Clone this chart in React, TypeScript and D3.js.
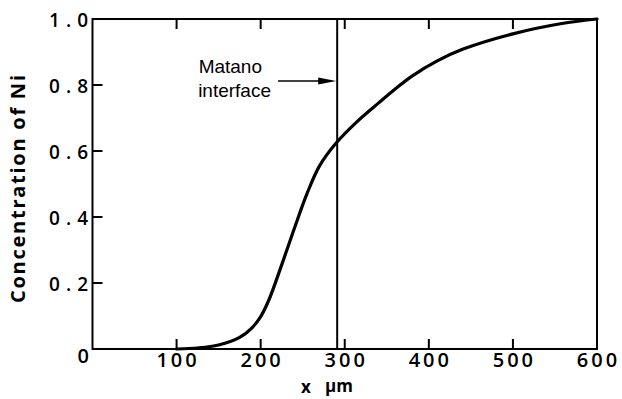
import React from "react";
import * as d3 from "d3";

const xTicks = [100, 200, 300, 400, 500, 600];
const yTicks = [0.2, 0.4, 0.6, 0.8];
const yTickLabels = ["0.2", "0.4", "0.6", "0.8", "1.0"];
const yTickValues = [0.2, 0.4, 0.6, 0.8, 1.0];
const topTicks = [100, 200, 300, 400, 500];
const curveX = [100, 125, 150, 175, 190, 200, 210, 225, 240, 255, 270, 290, 315, 340, 360, 380, 410, 440, 500, 560, 600];
const curveC = [0, 0.003, 0.012, 0.035, 0.065, 0.098, 0.15, 0.255, 0.365, 0.47, 0.555, 0.625, 0.69, 0.745, 0.788, 0.827, 0.873, 0.908, 0.955, 0.987, 1.0];
const matanoX = 291;

export default function App() {
  const W = 622, H = 399;
  const x = d3.scaleLinear().domain([0, 600]).range([92.5, 597]);
  const y = d3.scaleLinear().domain([0, 1]).range([349, 19]);
  const pts: [number, number][] = curveX.map((v, i) => [v, curveC[i]]);
  const line = d3.line<[number, number]>().x(d => x(d[0])).y(d => y(d[1])).curve(d3.curveCatmullRom.alpha(0.5));
  const tickLen = 10;
  const lblFont = "'Open Sans', sans-serif";
  const mx = x(matanoX);
  return (
    <svg width={W} height={H} style={{ position: "absolute", left: 0, top: 0, background: "#fff" }}>
      <rect x={x(0)} y={y(1)} width={x(600) - x(0)} height={y(0) - y(1)} fill="none" stroke="#000" strokeWidth={2} />
      {xTicks.slice(0, 5).map(t => (
        <line key={"bx" + t} x1={x(t)} x2={x(t)} y1={y(0)} y2={y(0) - tickLen} stroke="#000" strokeWidth={2} />
      ))}
      {topTicks.map(t => (
        <line key={"tx" + t} x1={x(t)} x2={x(t)} y1={y(1)} y2={y(1) + tickLen} stroke="#000" strokeWidth={2} />
      ))}
      {yTicks.map(t => (
        <line key={"ly" + t} x1={x(0)} x2={x(0) + tickLen} y1={y(t)} y2={y(t)} stroke="#000" strokeWidth={2} />
      ))}
      {xTicks.map(t => (
        <text key={"xl" + t} x={x(t) + 1.5} y={367} textAnchor="middle" fontFamily={lblFont} fontWeight={600} fontSize={20} letterSpacing={3}>
          {String(t)}
        </text>
      ))}
      <text x={89} y={363} textAnchor="end" fontFamily={lblFont} fontWeight={600} fontSize={20}>0</text>
      {yTickValues.map((t, i) => (
        <text key={"yl" + t} x={88 + 6} y={y(t) + 8} textAnchor="end" fontFamily={lblFont} fontWeight={600} fontSize={19} letterSpacing={6}>
          {yTickLabels[i]}
        </text>
      ))}
      <text x={306} y={393} textAnchor="middle" fontFamily={lblFont} fontWeight={700} fontSize={17}>x</text>
      <text x={325} y={392} textAnchor="start" fontFamily={lblFont} fontWeight={700} fontSize={17}>μm</text>
      <text transform={`translate(25,189) rotate(-90)`} textAnchor="middle" fontFamily={lblFont} fontWeight={700} fontSize={20} textLength={228} lengthAdjust="spacing">
        Concentration of Ni
      </text>
      <line x1={mx} x2={mx} y1={y(1)} y2={y(0)} stroke="#000" strokeWidth={2} />
      <line x1={278} x2={322} y1={81} y2={81} stroke="#000" strokeWidth={1.5} />
      <path d={`M${mx - 1},81 L${mx - 19},77.5 L${mx - 19},84.5 Z`} fill="#000" />
      <text x={262} y={73} textAnchor="end" fontFamily="'Liberation Sans', sans-serif" fontSize={19}>Matano</text>
      <text x={271} y={97} textAnchor="end" fontFamily="'Liberation Sans', sans-serif" fontSize={19}>interface</text>
      <path d={line(pts) || ""} fill="none" stroke="#000" strokeWidth={3.2} strokeLinecap="round" />
    </svg>
  );
}
